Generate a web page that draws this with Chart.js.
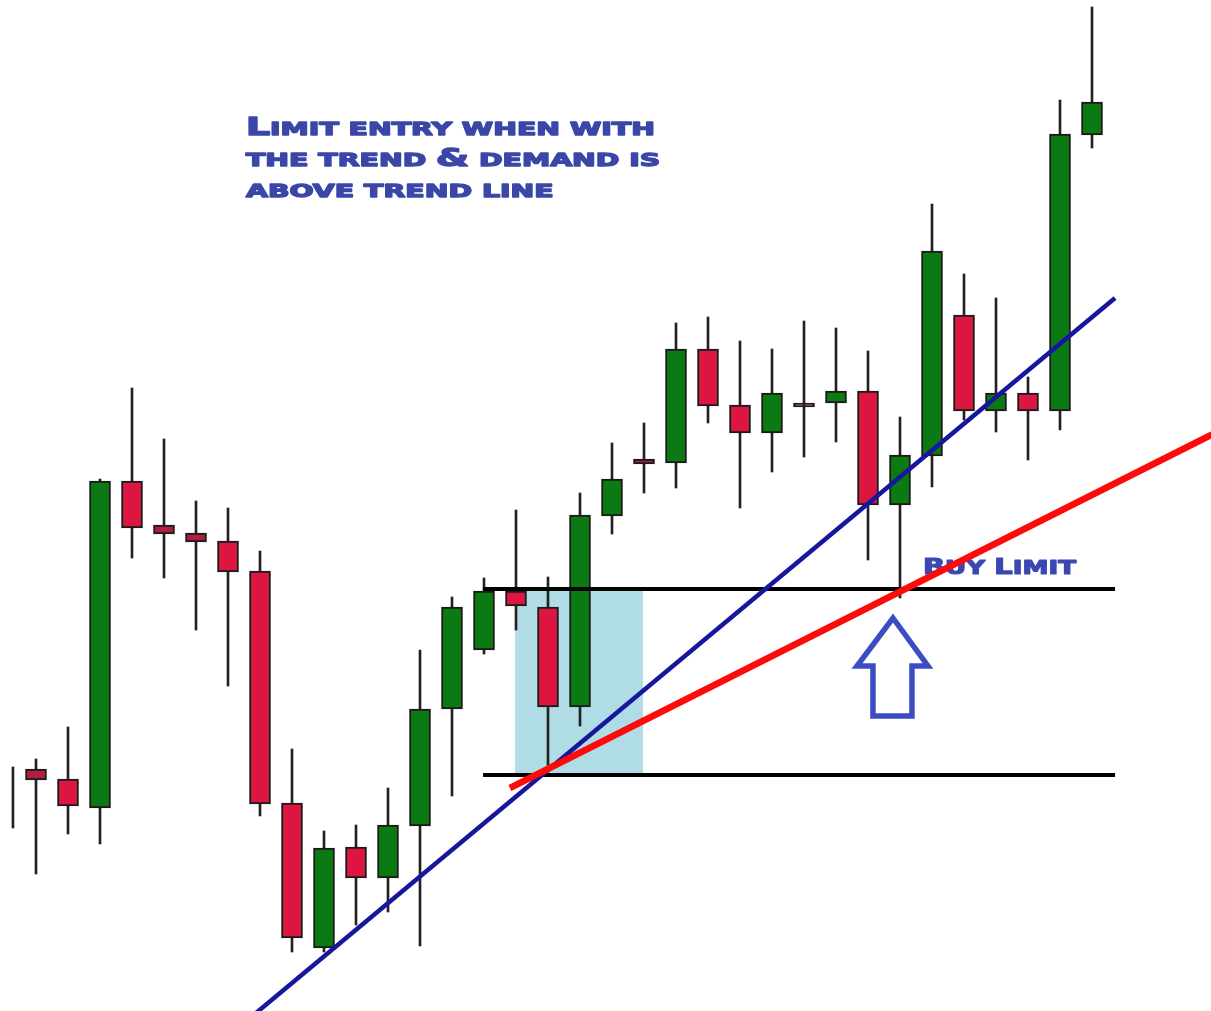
<!DOCTYPE html>
<html>
<head>
<meta charset="utf-8">
<script src="https://cdn.jsdelivr.net/npm/chart.js@4.4.1/dist/chart.umd.min.js"></script>
<style>
  html, body { margin: 0; padding: 0; background: #ffffff; }
  #wrap { width: 1211px; height: 1011px; }
</style>
</head>
<body>
<div id="wrap"><canvas id="c" width="1211" height="1011"></canvas></div>
<script>
// ---------- data (price units) ----------
const candleIndex = [1,2,3,4,5,6,7,8,9,10,11,12,13,14,15,16,17,18,19,20,21,22,23,24,25,26,27,28,29,30,31,32,33,34];
const opens  = [24.2,23.2,20.3,53.0,48.6,47.8,47.0,44.0,20.8, 6.3,16.4,13.3,18.5,30.2,36.1,42.0,40.4,30.4,49.5,55.2,54.8,66.2,60.6,57.8,60.8,60.8,62.0,50.6,55.5,69.6,60.0,61.8,60.0,87.6];
const highs  = [25.2,28.4,53.2,62.3,57.2,51.0,50.3,46.0,26.2,18.0,18.6,22.3,36.1,41.4,43.3,50.1,43.4,51.8,56.8,58.8,68.8,69.4,67.0,66.2,69.0,68.3,66.0,59.4,80.7,73.7,71.3,63.4,91.1,100.4];
const lows   = [13.7,17.7,16.7,45.3,43.3,38.1,32.5,19.5, 5.9, 5.9, 8.6, 9.9, 6.5,21.5,35.7,38.1,24.6,28.5,47.7,51.8,52.3,58.8,50.3,53.9,55.4,56.9,45.1,41.3,52.4,59.1,57.9,55.1,58.1,86.3];
const closes = [23.1,20.5,53.0,48.3,47.7,46.9,43.9,20.7, 7.3,16.3,13.3,18.6,30.2,40.4,42.0,40.5,30.4,49.6,53.2,54.7,66.2,60.5,57.8,61.8,60.4,62.0,50.6,55.6,76.0,60.0,61.8,60.0,87.7,90.9];

// partial candle cut by the left edge (only its wick is visible)
const edgeWickIndex = [0.28];
const edgeWickLow   = [18.3];
const edgeWickHigh  = [24.4];

// trend line (blue) and entry line (red)
const trendLineX = [7.5, 34.72];
const trendLineY = [-1.2, 71.3];
const entryLineX = [15.81, 37.75];
const entryLineY = [22.3, 57.65];

// demand zone levels
const buyLimitLevel   = 42.2;
const demandLowLevel  = 23.6;
const levelLineX      = [14.97, 34.72];
const zoneX           = [15.97, 19.97];

// annotation text
const titleLines = ['Limit entry when with', 'the trend & demand is', 'above trend line'];
const buyLimitLabel = 'Buy Limit';

// ---------- build datasets ----------
const bodyData = candleIndex.map((x, k) => ({ x: x, y: [opens[k], closes[k]] }));
const wickData = candleIndex.map((x, k) => ({ x: x, y: [lows[k], highs[k]] }))
  .concat(edgeWickIndex.map((x, k) => ({ x: x, y: [edgeWickLow[k], edgeWickHigh[k]] })));

const bodyColors = candleIndex.map((x, k) => {
  const up = closes[k] > opens[k];
  const small = Math.abs(closes[k] - opens[k]) < 1.3;
  if (up) return '#0b7a12';
  return small ? '#b21e3e' : '#dc1640';
});

// manual small caps: capitals at the big size, other letters upper-cased at the small size
function smallCapsRuns(text) {
  const runs = [];
  for (const ch of text) {
    const big = ch !== ch.toLowerCase() || ch === '&';
    const last = runs[runs.length - 1];
    if (last && last.big === big) last.t += ch.toUpperCase();
    else runs.push({ t: ch.toUpperCase(), big: big });
  }
  return runs;
}
function drawSmallCaps(ctx, text, x0, y0, bigPx, smallPx, scaleX, measureOnly) {
  const runs = smallCapsRuns(text);
  let w = 0;
  for (const r of runs) {
    ctx.font = 'bold ' + (r.big ? bigPx : smallPx) + 'px "DejaVu Sans"';
    const rw = ctx.measureText(r.t).width;
    if (!measureOnly) {
      ctx.save();
      ctx.translate(x0 + w * scaleX, y0);
      ctx.scale(scaleX, 1);
      ctx.fillText(r.t, 0, 0);
      ctx.strokeText(r.t, 0, 0);
      ctx.restore();
    }
    w += rw;
  }
  return w;
}

const annotations = {
  id: 'annotations',
  beforeDatasetsDraw(chart) {
    const { ctx, scales: { x, y } } = chart;
    // light blue demand zone
    ctx.save();
    ctx.fillStyle = '#b0dce5';
    const zx1 = x.getPixelForValue(zoneX[0]), zx2 = x.getPixelForValue(zoneX[1]);
    const zy1 = y.getPixelForValue(buyLimitLevel), zy2 = y.getPixelForValue(demandLowLevel);
    ctx.fillRect(zx1, zy1, zx2 - zx1, zy2 - zy1);
    ctx.restore();

    // title text (small caps, wide, heavy)
    ctx.save();
    ctx.fillStyle = '#3a47a8';
    ctx.strokeStyle = '#3a47a8';
    ctx.lineWidth = 1.4;
    ctx.lineJoin = 'round';
    ctx.textBaseline = 'alphabetic';
    const left = x.getPixelForValue(7.56);
    const right = x.getPixelForValue(20.34);
    const w0 = drawSmallCaps(ctx, titleLines[0], 0, 0, 24, 18, 1, true);
    const sx = (right - left) / w0;
    const baselines = [87.6, 84.5, 81.4];
    titleLines.forEach((t, k) => {
      drawSmallCaps(ctx, t, left, y.getPixelForValue(baselines[k]), 24, 18, sx, false);
    });
    ctx.restore();

    // BUY LIMIT label
    ctx.save();
    ctx.fillStyle = '#3b48b2';
    ctx.strokeStyle = '#3b48b2';
    ctx.lineWidth = 1.2;
    ctx.lineJoin = 'round';
    const bl = x.getPixelForValue(28.72), br = x.getPixelForValue(33.5);
    const bw = drawSmallCaps(ctx, buyLimitLabel, 0, 0, 21, 19, 1, true);
    drawSmallCaps(ctx, buyLimitLabel, bl, y.getPixelForValue(43.7), 21, 19, (br - bl) / bw, false);
    ctx.restore();
  },
  afterDatasetsDraw(chart) {
    const { ctx, scales: { x, y } } = chart;
    // hollow up arrow
    const tx = x.getPixelForValue(27.78), ty = y.getPixelForValue(39.3);
    ctx.save();
    ctx.strokeStyle = '#3c4cc2';
    ctx.lineWidth = 5.5;
    ctx.lineJoin = 'miter';
    ctx.beginPath();
    ctx.moveTo(tx, ty);
    ctx.lineTo(tx + 35, ty + 48);
    ctx.lineTo(tx + 19, ty + 48);
    ctx.lineTo(tx + 19, ty + 98);
    ctx.lineTo(tx - 20, ty + 98);
    ctx.lineTo(tx - 20, ty + 48);
    ctx.lineTo(tx - 36, ty + 48);
    ctx.closePath();
    ctx.stroke();
    ctx.restore();
  }
};

const lineDs = (xs, ys, color, width, order) => ({
  type: 'line',
  data: xs.map((v, k) => ({ x: v, y: ys[k] })),
  borderColor: color,
  borderWidth: width,
  pointRadius: 0,
  tension: 0,
  fill: false,
  order: order,
  borderCapStyle: 'butt'
});

new Chart(document.getElementById('c'), {
  type: 'bar',
  data: {
    datasets: [
      {
        label: 'bodies',
        data: bodyData,
        backgroundColor: bodyColors,
        borderColor: '#1a1a1a',
        borderWidth: 2,
        borderSkipped: false,
        barThickness: 21,
        grouped: false,
        order: 2
      },
      {
        label: 'wicks',
        data: wickData,
        backgroundColor: '#222222',
        borderWidth: 0,
        barThickness: 2,
        grouped: false,
        order: 3
      },
      lineDs(levelLineX, [buyLimitLevel, buyLimitLevel], '#000000', 4, 1),
      lineDs(levelLineX, [demandLowLevel, demandLowLevel], '#000000', 4, 1),
      lineDs(trendLineX, trendLineY, '#16169e', 4.5, 0),
      lineDs(entryLineX, entryLineY, '#ff0a0a', 6.5, -1)
    ]
  },
  options: {
    responsive: false,
    devicePixelRatio: 1,
    animation: false,
    layout: { padding: 0 },
    plugins: { legend: { display: false }, tooltip: { enabled: false }, title: { display: false } },
    scales: {
      x: { type: 'linear', min: -0.125, max: 37.71875, offset: false, display: false },
      y: { type: 'linear', min: 0, max: 101.1, display: false }
    }
  },
  plugins: [annotations]
});
</script>
</body>
</html>
